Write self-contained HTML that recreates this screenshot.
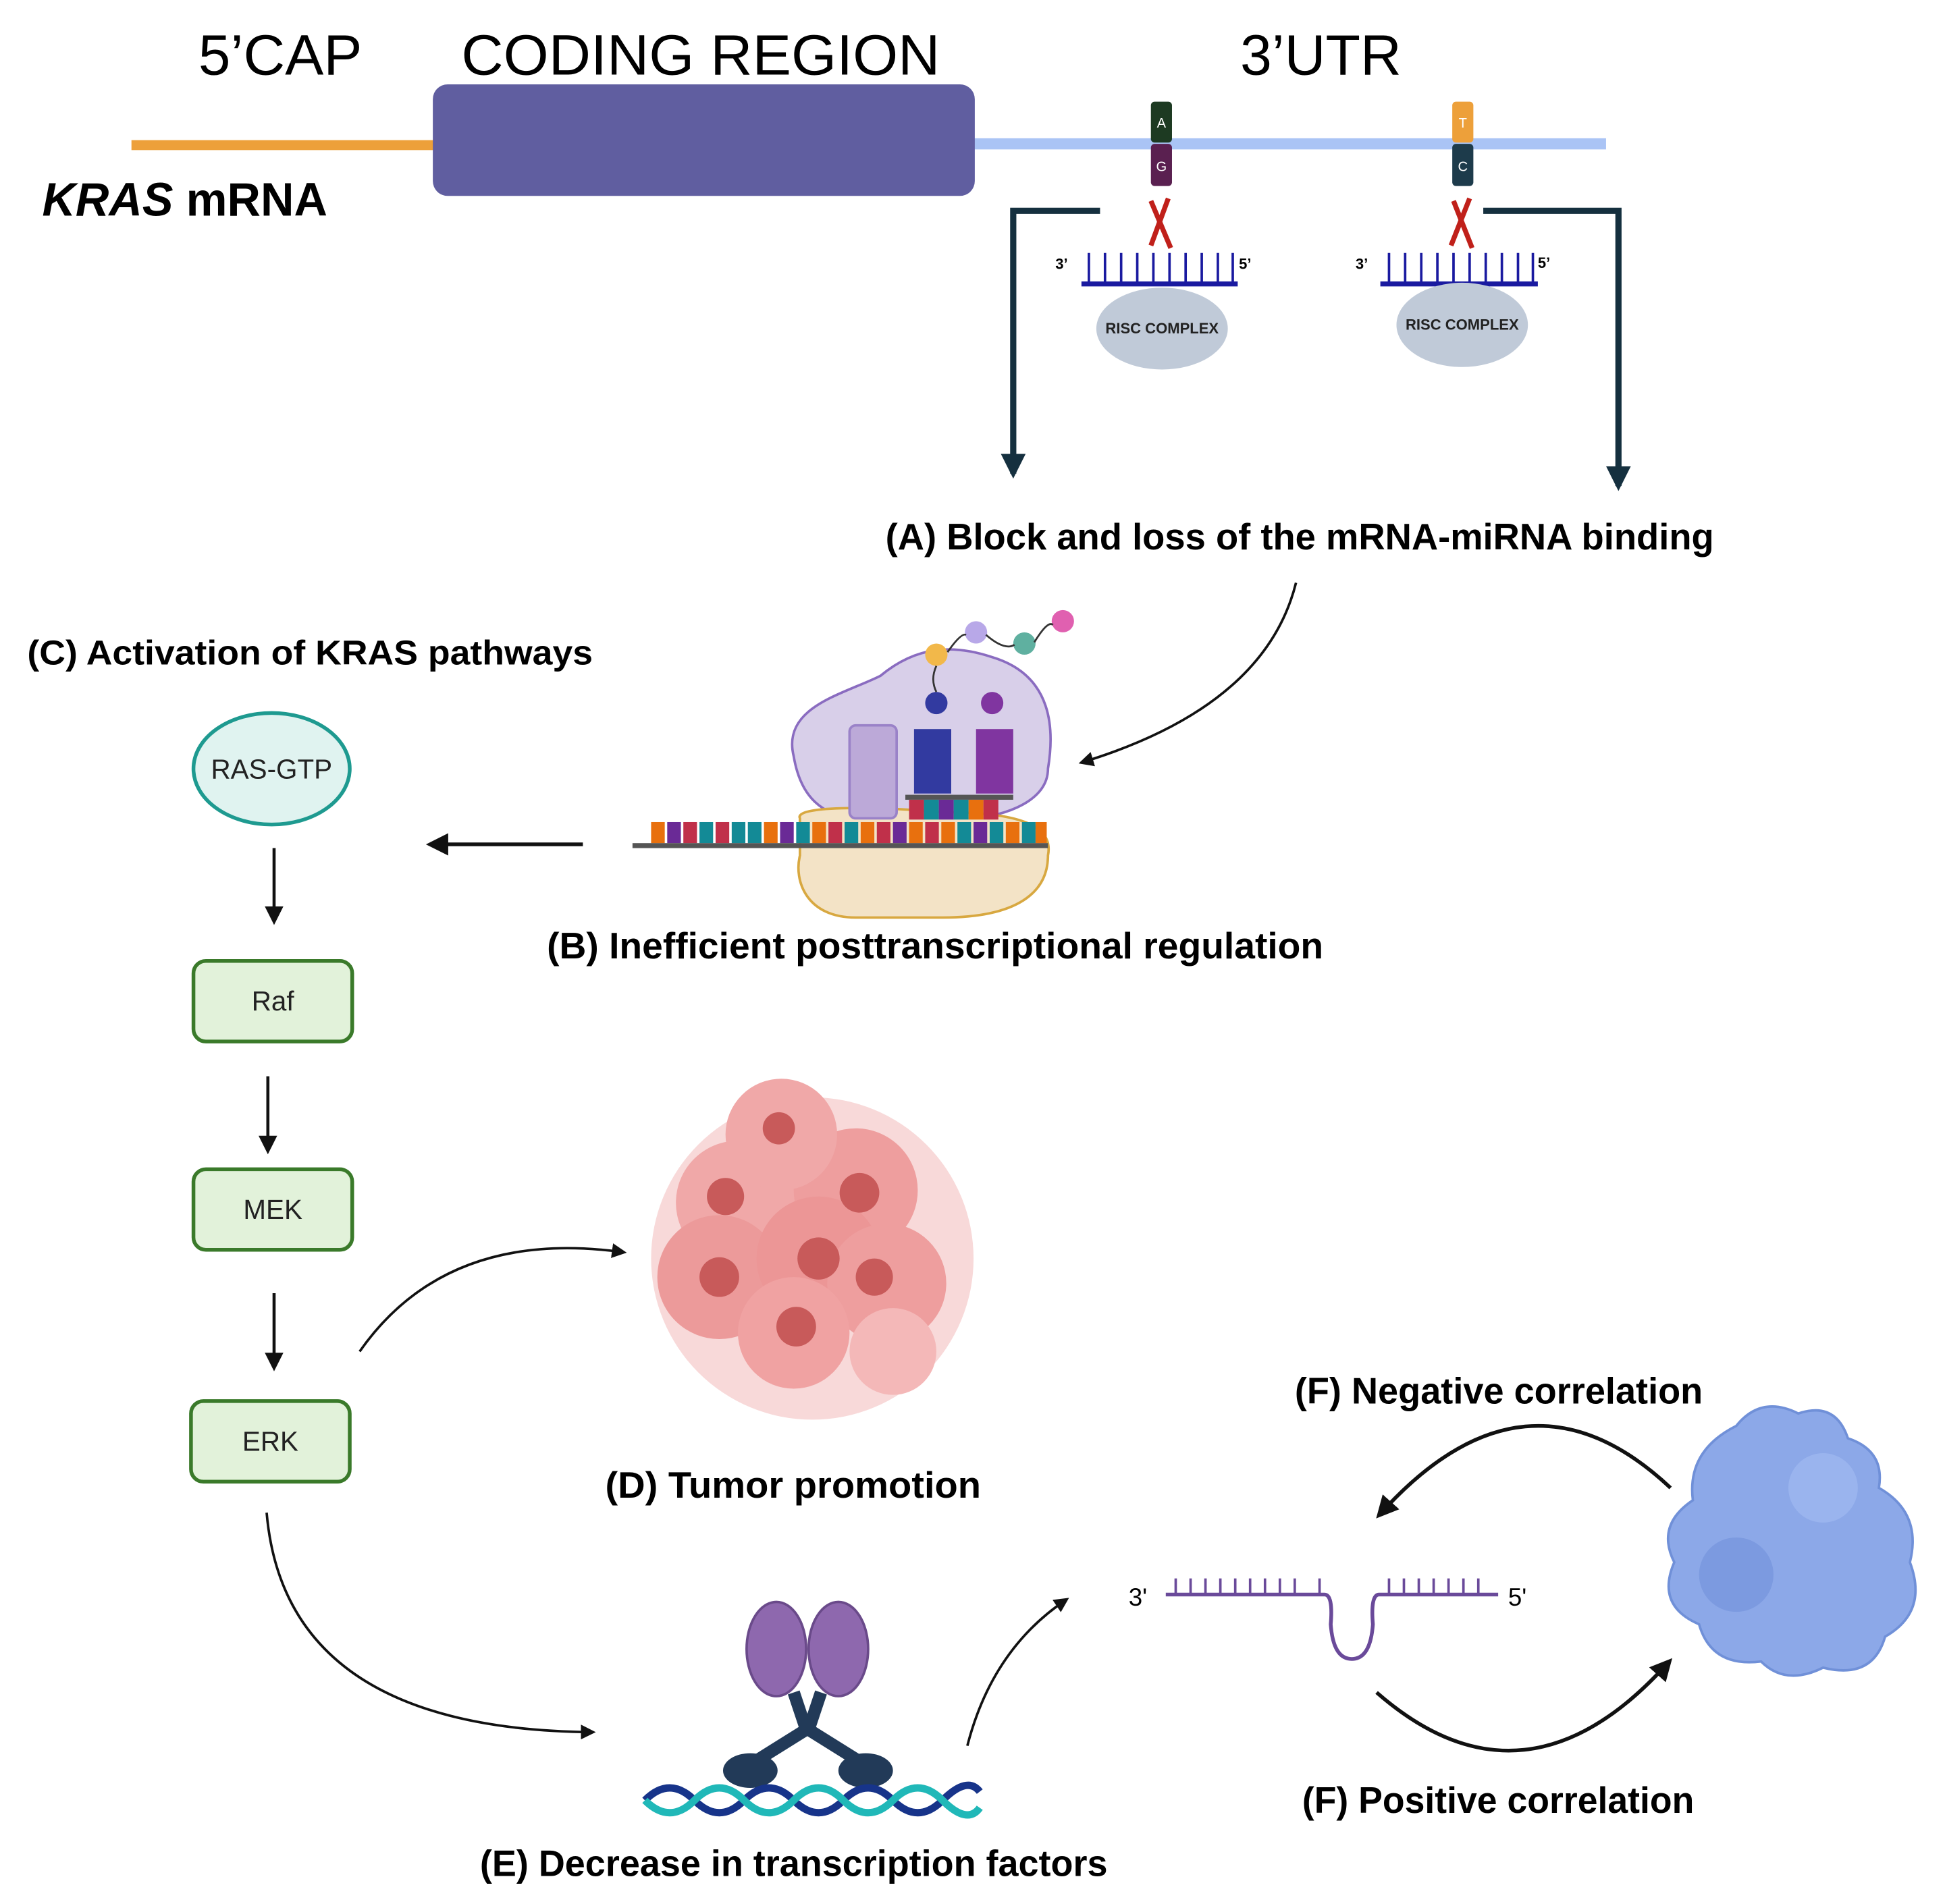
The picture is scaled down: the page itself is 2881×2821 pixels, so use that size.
<!DOCTYPE html>
<html><head><meta charset="utf-8"><style>html,body{margin:0;padding:0;background:#fff}svg{display:block}</style></head>
<body>
<svg xmlns="http://www.w3.org/2000/svg" width="2881" height="2821" viewBox="0 0 1568.3 1535.6" font-family="Liberation Sans, sans-serif">
<defs>
<marker id="ah" viewBox="0 0 10 10" refX="8" refY="5" markerWidth="6" markerHeight="6" orient="auto-start-reverse"><path d="M0,0 L10,5 L0,10 z" fill="#111"/></marker>
<marker id="ahd" viewBox="0 0 10 10" refX="8" refY="5" markerWidth="4" markerHeight="4" orient="auto"><path d="M0,0 L10,5 L0,10 z" fill="#15303f"/></marker>
</defs>
<rect width="1600" height="1600" fill="#fff"/>
<text x="160" y="60" font-size="46" textLength="132" lengthAdjust="spacingAndGlyphs">5’CAP</text>
<text x="372" y="60" font-size="46" textLength="386" lengthAdjust="spacingAndGlyphs">CODING REGION</text>
<text x="1000" y="60" font-size="46" textLength="130" lengthAdjust="spacingAndGlyphs">3’UTR</text>
<line x1="106" y1="117" x2="352" y2="117" stroke="#eda03a" stroke-width="8"/>
<line x1="784" y1="116" x2="1295" y2="116" stroke="#aac4f5" stroke-width="9"/>
<rect x="349" y="68" width="437" height="90" rx="12" fill="#605ea0"/>
<text x="34" y="174" font-size="38" font-weight="bold" textLength="230" lengthAdjust="spacingAndGlyphs"><tspan font-style="italic">KRAS</tspan> mRNA</text>
<rect x="928" y="82" width="17" height="33" rx="3" fill="#1d3a22"/><text x="936.5" y="103" font-size="11" fill="#fff" text-anchor="middle">A</text>
<rect x="928" y="116" width="17" height="34" rx="3" fill="#5a2050"/><text x="936.5" y="138" font-size="11" fill="#fff" text-anchor="middle">G</text>
<rect x="1171" y="82" width="17" height="33" rx="3" fill="#eda03a"/><text x="1179.5" y="103" font-size="11" fill="#fff" text-anchor="middle">T</text>
<rect x="1171" y="116" width="17" height="34" rx="3" fill="#1d3b4b"/><text x="1179.5" y="138" font-size="11" fill="#fff" text-anchor="middle">C</text>
<g stroke="#c0201a" stroke-width="4"><line x1="928" y1="162" x2="944" y2="200"/><line x1="942" y1="160" x2="928" y2="198"/><line x1="1172" y1="162" x2="1187" y2="200"/><line x1="1185" y1="160" x2="1170" y2="198"/></g>
<polyline points="887,170 817,170 817,382" fill="none" stroke="#15303f" stroke-width="5" marker-end="url(#ahd)"/>
<polyline points="1196,170 1305,170 1305,392" fill="none" stroke="#15303f" stroke-width="5" marker-end="url(#ahd)"/>
<g stroke="#1a1aa0" stroke-width="2">
<line x1="872" y1="229" x2="998" y2="229" stroke-width="4"/>
<path d="M878 229V204M891 229V204M904 229V204M917 229V204M930 229V204M943 229V204M956 229V204M969 229V204M982 229V204M994 229V204"/>
<line x1="1113" y1="229" x2="1240" y2="229" stroke-width="4"/>
<path d="M1120 229V204M1133 229V204M1146 229V204M1159 229V204M1172 229V204M1185 229V204M1198 229V204M1211 229V204M1224 229V204M1236 229V204"/>
</g>
<g font-size="12" font-weight="bold"><text x="851" y="217">3’</text><text x="999" y="217">5’</text><text x="1093" y="217">3’</text><text x="1240" y="216">5’</text></g>
<ellipse cx="937" cy="265" rx="53" ry="33" fill="#c0cad8"/>
<ellipse cx="1179" cy="262" rx="53" ry="34" fill="#c0cad8"/>
<text x="937" y="269" font-size="12" font-weight="bold" text-anchor="middle" fill="#222">RISC COMPLEX</text>
<text x="1179" y="266" font-size="12" font-weight="bold" text-anchor="middle" fill="#222">RISC COMPLEX</text>
<text x="714" y="443" font-size="30" font-weight="bold" textLength="668" lengthAdjust="spacingAndGlyphs">(A) Block and loss of the mRNA-miRNA binding</text>
<path d="M1045 470 Q1020 570 872 615" fill="none" stroke="#111" stroke-width="2" marker-end="url(#ah)"/>
<path d="M640 610 C630 570 680 560 710 545 C740 520 770 520 800 530 C850 545 850 590 845 620 C845 650 800 660 780 660 L700 662 C660 660 645 640 640 610z" fill="#d8cfe9" stroke="#8a6cc0" stroke-width="2"/>
<path d="M645 660 C640 650 700 650 760 655 C820 655 850 665 845 690 C845 720 820 740 760 740 L690 740 C650 740 640 710 645 690z" fill="#f3e3c6" stroke="#d8a840" stroke-width="2"/>
<rect x="685" y="585" width="38" height="75" rx="5" fill="#bca9d8" stroke="#9a82c8" stroke-width="2"/>
<rect x="737" y="588" width="30" height="52" fill="#323aa0"/>
<rect x="787" y="588" width="30" height="52" fill="#8035a0"/>
<circle cx="755" cy="567" r="9" fill="#323aa0"/><circle cx="800" cy="567" r="9" fill="#8035a0"/>
<circle cx="755" cy="528" r="9" fill="#f2b84a"/><circle cx="787" cy="510" r="9" fill="#b8a8e8"/><circle cx="826" cy="519" r="9" fill="#5fb0a0"/><circle cx="857" cy="501" r="9" fill="#e060b0"/>
<path d="M755 537 Q750 548 755 558 M764 526 Q775 510 779 512 M795 512 Q810 525 818 520 M834 518 Q845 500 849 504" fill="none" stroke="#333" stroke-width="1.5"/>
<rect x="730" y="641" width="87" height="4" fill="#555"/>
<g>
<rect x="733" y="645" width="12" height="16" fill="#c0304a"/><rect x="745" y="645" width="12" height="16" fill="#138a96"/><rect x="757" y="645" width="12" height="16" fill="#6a2a96"/><rect x="769" y="645" width="12" height="16" fill="#138a96"/><rect x="781" y="645" width="12" height="16" fill="#e8700e"/><rect x="793" y="645" width="12" height="16" fill="#c0304a"/>
</g>
<g>
<rect x="525" y="663" width="11" height="17" fill="#e8700e"/><rect x="538" y="663" width="11" height="17" fill="#6a2a96"/><rect x="551" y="663" width="11" height="17" fill="#c0304a"/><rect x="564" y="663" width="11" height="17" fill="#138a96"/><rect x="577" y="663" width="11" height="17" fill="#c0304a"/><rect x="590" y="663" width="11" height="17" fill="#138a96"/><rect x="603" y="663" width="11" height="17" fill="#138a96"/><rect x="616" y="663" width="11" height="17" fill="#e8700e"/><rect x="629" y="663" width="11" height="17" fill="#6a2a96"/><rect x="642" y="663" width="11" height="17" fill="#138a96"/><rect x="655" y="663" width="11" height="17" fill="#e8700e"/><rect x="668" y="663" width="11" height="17" fill="#c0304a"/><rect x="681" y="663" width="11" height="17" fill="#138a96"/><rect x="694" y="663" width="11" height="17" fill="#e8700e"/><rect x="707" y="663" width="11" height="17" fill="#c0304a"/><rect x="720" y="663" width="11" height="17" fill="#6a2a96"/><rect x="733" y="663" width="11" height="17" fill="#e8700e"/><rect x="746" y="663" width="11" height="17" fill="#c0304a"/><rect x="759" y="663" width="11" height="17" fill="#e8700e"/><rect x="772" y="663" width="11" height="17" fill="#138a96"/><rect x="785" y="663" width="11" height="17" fill="#6a2a96"/><rect x="798" y="663" width="11" height="17" fill="#138a96"/><rect x="811" y="663" width="11" height="17" fill="#e8700e"/><rect x="824" y="663" width="11" height="17" fill="#138a96"/><rect x="835" y="663" width="9" height="17" fill="#e8700e"/>
</g>
<rect x="510" y="680" width="335" height="4" fill="#555"/>
<text x="441" y="773" font-size="30" font-weight="bold" textLength="626" lengthAdjust="spacingAndGlyphs">(B) Inefficient posttranscriptional regulation</text>
<line x1="470" y1="681" x2="347" y2="681" stroke="#111" stroke-width="3" marker-end="url(#ah)"/>
<text x="22" y="536" font-size="28" font-weight="bold" textLength="456" lengthAdjust="spacingAndGlyphs">(C) Activation of KRAS pathways</text>
<ellipse cx="219" cy="620" rx="63" ry="45" fill="#e0f3f0" stroke="#1e9a90" stroke-width="3"/>
<text x="219" y="628" font-size="22" text-anchor="middle" fill="#222">RAS-GTP</text>
<g stroke="#111" stroke-width="2.5" marker-end="url(#ah)"><line x1="221" y1="684" x2="221" y2="743"/><line x1="216" y1="868" x2="216" y2="928"/><line x1="221" y1="1043" x2="221" y2="1103"/></g>
<g fill="#e2f2da" stroke="#3a7a2a" stroke-width="3"><rect x="156" y="775" width="128" height="65" rx="10"/><rect x="156" y="943" width="128" height="65" rx="10"/><rect x="154" y="1130" width="128" height="65" rx="10"/></g>
<g font-size="22" text-anchor="middle" fill="#222"><text x="220" y="815">Raf</text><text x="220" y="983">MEK</text><text x="218" y="1170">ERK</text></g>
<g>
<circle cx="655" cy="1015" r="130" fill="#f6d0d0" opacity="0.8"/>
<circle cx="595" cy="970" r="50" fill="#f0a8a8"/><circle cx="690" cy="960" r="50" fill="#ee9e9e"/><circle cx="630" cy="915" r="45" fill="#f0a8a8"/><circle cx="580" cy="1030" r="50" fill="#ec9a9a"/><circle cx="660" cy="1015" r="50" fill="#ec9696"/><circle cx="715" cy="1035" r="48" fill="#ee9e9e"/><circle cx="640" cy="1075" r="45" fill="#f0a2a2"/><circle cx="720" cy="1090" r="35" fill="#f4b8b8"/>
<g fill="#c85a5a"><circle cx="585" cy="965" r="15"/><circle cx="693" cy="962" r="16"/><circle cx="628" cy="910" r="13"/><circle cx="580" cy="1030" r="16"/><circle cx="660" cy="1015" r="17"/><circle cx="705" cy="1030" r="15"/><circle cx="642" cy="1070" r="16"/></g>
</g>
<text x="488" y="1208" font-size="30" font-weight="bold" textLength="303" lengthAdjust="spacingAndGlyphs">(D) Tumor promotion</text>
<path d="M290 1090 Q360 990 503 1010" fill="none" stroke="#111" stroke-width="2" marker-end="url(#ah)"/>
<path d="M215 1220 Q230 1395 478 1397" fill="none" stroke="#111" stroke-width="2" marker-end="url(#ah)"/>
<ellipse cx="626" cy="1330" rx="24" ry="38" fill="#8e68ae" stroke="#6a4a8a" stroke-width="2"/>
<ellipse cx="676" cy="1330" rx="24" ry="38" fill="#8e68ae" stroke="#6a4a8a" stroke-width="2"/>
<path d="M640 1365 L650 1395 L610 1420 M662 1365 L652 1395 L692 1420" fill="none" stroke="#223a58" stroke-width="10"/>
<ellipse cx="605" cy="1428" rx="22" ry="14" fill="#223a58"/><ellipse cx="698" cy="1428" rx="22" ry="14" fill="#223a58"/>
<path d="M520 1452 Q540 1432 560 1452 T600 1452 T640 1452 T680 1452 T720 1452 T760 1452 T790 1445" fill="none" stroke="#17348a" stroke-width="6"/>
<path d="M520 1452 Q540 1472 560 1452 T600 1452 T640 1452 T680 1452 T720 1452 T760 1452 T790 1458" fill="none" stroke="#20b8b8" stroke-width="6"/>
<text x="387" y="1513" font-size="30" font-weight="bold" textLength="506" lengthAdjust="spacingAndGlyphs">(E) Decrease in transcription factors</text>
<path d="M780 1408 Q800 1330 860 1290" fill="none" stroke="#111" stroke-width="2" marker-end="url(#ah)"/>
<text x="910" y="1295" font-size="20">3'</text>
<text x="1216" y="1295" font-size="20">5'</text>
<path d="M940 1286 H1068 Q1075 1286 1073 1310 Q1075 1338 1090 1338 Q1105 1338 1107 1310 Q1105 1286 1112 1286 H1208" fill="none" stroke="#6a4a9a" stroke-width="3"/>
<path d="M948 1286V1273M960 1286V1273M972 1286V1273M984 1286V1273M996 1286V1273M1008 1286V1273M1020 1286V1273M1032 1286V1273M1044 1286V1273M1064 1286V1273M1120 1286V1273M1132 1286V1273M1144 1286V1273M1156 1286V1273M1168 1286V1273M1180 1286V1273M1192 1286V1273" stroke="#6a4a9a" stroke-width="2"/>
<path d="M1400 1150 Q1420 1125 1450 1140 Q1480 1130 1490 1160 Q1520 1170 1515 1200 Q1550 1220 1540 1260 Q1555 1300 1520 1320 Q1510 1355 1470 1345 Q1440 1360 1420 1340 Q1380 1345 1370 1310 Q1335 1295 1350 1260 Q1335 1230 1365 1210 Q1360 1170 1400 1150z" fill="#8ca8e8" stroke="#7090d8" stroke-width="2"/>
<circle cx="1400" cy="1270" r="30" fill="#7c9ae0"/><circle cx="1470" cy="1200" r="28" fill="#9ab4ee"/>
<text x="1044" y="1132" font-size="30" font-weight="bold" textLength="329" lengthAdjust="spacingAndGlyphs">(F) Negative correlation</text>
<path d="M1347 1200 Q1230 1090 1112 1222" fill="none" stroke="#111" stroke-width="3" marker-end="url(#ah)"/>
<path d="M1110 1365 Q1230 1470 1346 1340" fill="none" stroke="#111" stroke-width="3" marker-end="url(#ah)"/>
<text x="1050" y="1462" font-size="30" font-weight="bold" textLength="316" lengthAdjust="spacingAndGlyphs">(F) Positive correlation</text>
</svg>
</body></html>
